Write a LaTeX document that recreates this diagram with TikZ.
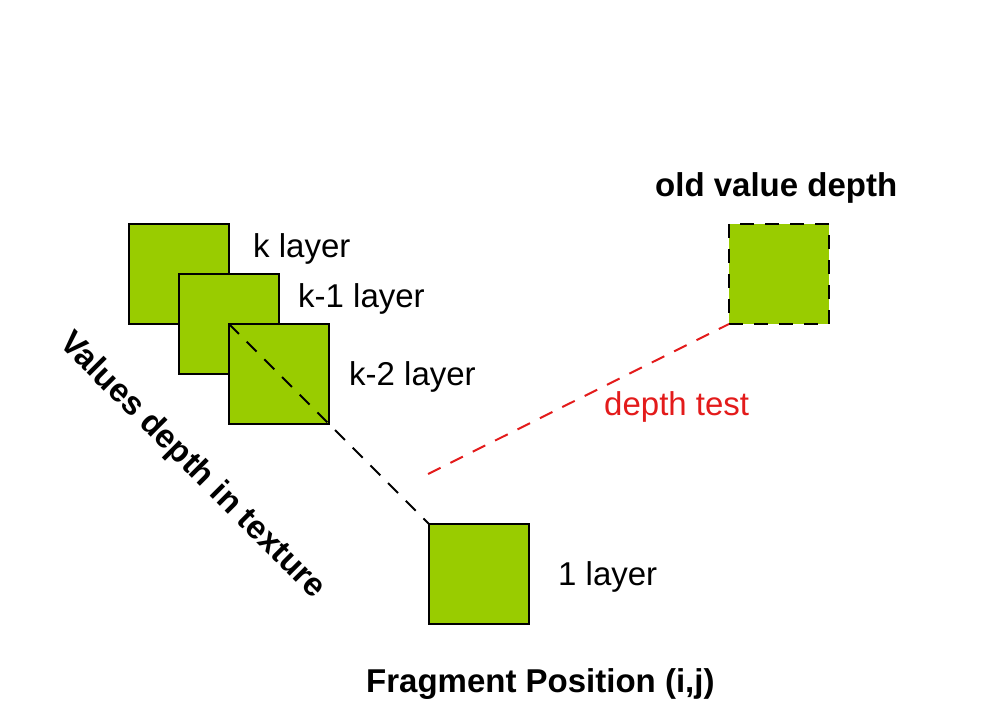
\documentclass[tikz,border=0pt]{standalone}
\usepackage{fontspec}
\setmainfont{Liberation Sans}
\definecolor{lgreen}{HTML}{99CC00}
\definecolor{dred}{HTML}{E31B1B}
\begin{document}
\begin{tikzpicture}[x=1pt,y=-1pt,
  layerbox/.style={draw=black,fill=lgreen,line width=2pt,minimum size=100pt,inner sep=0pt,outer sep=0pt},
  lbl/.style={anchor=base west,inner sep=0pt,font=\fontsize{33}{40}\selectfont},
  blbl/.style={lbl,font=\fontsize{33}{40}\selectfont\bfseries},
  dashline/.style={line width=2pt,dash pattern=on 14pt off 11pt}]
\useasboundingbox (0,0) rectangle (987,708);
\node[layerbox] (k) at (179,274) {};
\node[layerbox] (k1) at (229,324) {};
\node[layerbox] (k2) at (279,374) {};
\node[layerbox] (one) at (479,574) {};
\node[layerbox,draw=none] (old) at (779,274) {};
\draw[dashline] (old.north west) rectangle (old.south east);
\draw[dashline] (k2.north west) -- (one.north west);
\coordinate (rstart) at (428,474);
\draw[dashline,draw=dred] (rstart) -- (old.south west);
\node[lbl] (tk) at (253,258) {k layer};
\node[lbl] (tk1) at (298,308) {k-1 layer};
\node[lbl] (tk2) at (349,385) {k-2 layer};
\node[lbl] (t1) at (558,585) {1 layer};
\node[lbl,text=dred] (tdt) at (604,415) {depth test};
\node[blbl] (told) at (655,197) {old value depth};
\node[blbl] (tfrag) at (366,692) {Fragment Position (i,j)};
\node[inner sep=0pt,rotate=-45,font=\fontsize{33}{40}\selectfont\bfseries] (tval) at (192,466) {Values depth in texture};
\end{tikzpicture}
\end{document}
